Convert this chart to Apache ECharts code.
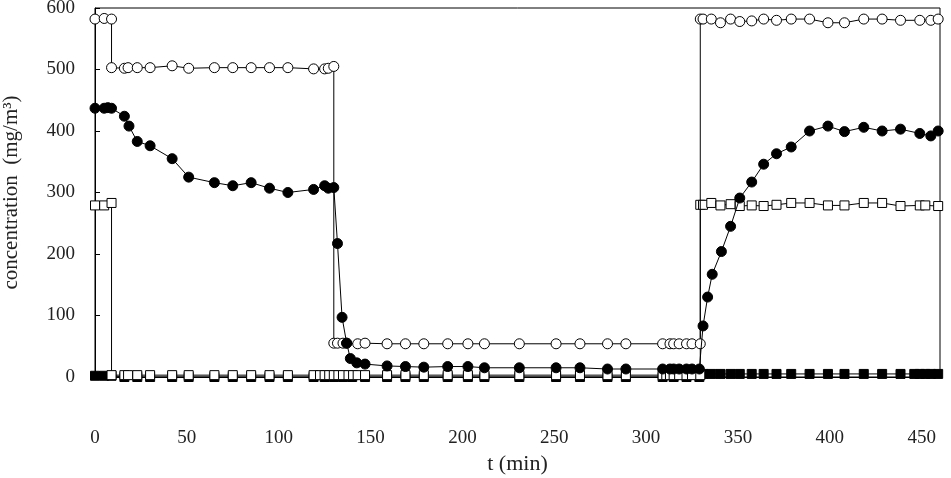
<!DOCTYPE html>
<html>
<head>
<meta charset="utf-8">
<script src="https://cdn.jsdelivr.net/npm/echarts@6/dist/echarts.min.js"></script>
<style>html,body{margin:0;padding:0;background:#fff;}#c{width:951px;height:478px;}</style>
</head>
<body>
<div id="c"></div>
<script>
// open circles
const ocT = [0,5,9,9,16,18,23,30,42,51,65,75,85,95,105,119,125,127,130,130,132,135,137,143,147,159,169,179,192,203,212,231,251,264,279,289,309,313,315,318,322,325,329.5,329.5,331,335.5,340.5,346,351,357.5,364,371,379,389,399,408,418.5,428.5,438.5,449,455,459];
const ocV = [582,583,582,503,502,503,503,503,506,502,503,503,503,503,503,501,501,502,505,55,55,55,55,54,55,54,54,54,54,54,54,54,54,54,54,54,54,54,54,54,54,54,54,582,582,582,576,582,578,579,582,580,582,582,576,576,582,582,580,580,580,582];
// filled circles
const fcT = [0,5,7,9,16,18.5,23,30,42,51,65,75,85,95,105,119,125,127,130,132,134.5,137,139,142.5,147,159,169,179,192,203,212,231,251,264,279,289,309,313,315,318,322,325,329,331,333.5,336,341,346,351,357.5,364,371,379,389,399,408,418.5,428.5,438.5,449,455,459];
const fcV = [437,437,438,437,424,408,383,376,355,325,316,311,316,307,300,305,311,307,308,217,97,55,30,23,21,18,17,16,17,17,15,15,15,15,13,13,13,13,13,13,13,13,13,83,130,167,204,245,291,317,346,363,374,400,408,399,406,400,403,396,392,400];
// open squares
const osT = [0,5,9,9,16,18,23,30,42,51,65,75,85,95,105,119,122.5,125,127.5,130,132.5,135,138,140.5,143,147,159,169,179,192,203,212,231,251,264,279,289,309,311,313,315,318,322,325,329.5,329.5,331,335.5,340.5,346,351,357.5,364,371,379,389,399,408,418.5,428.5,438.5,449,452,459];
const osV = [279,279,283,3,3,3,3,3,3,3,3,3,3,3,3,3,3,3,3,3,3,3,3,3,3,3,3,3,3,3,3,3,3,3,3,3,3,3,3,3,3,3,3,3,3,280,280,283,279,281,278,279,278,280,283,283,279,279,283,283,278,279,279,278];
// filled squares
const fsT = [0,5,9,16,23,30,42,51,65,75,85,95,105,119,125,130,135,140,147,159,169,179,192,203,212,231,251,264,279,289,309,315,322,329,331,335.5,340.5,346,351,357.5,364,371,379,389,399,408,418.5,428.5,438.5,446,449,452,455,459];
const fsV = [2,2,2,0,0,0,0,0,0,0,0,0,0,0,0,0,0,0,0,0,0,0,0,0,0,0,0,0,0,0,0,0,0,0,5,5,5,5,5,5,5,5,5,5,5,5,5,5,5,5,5,5,5,5];
const xTicks = [0,50,100,150,200,250,300,350,400,450];

const pairs = (t, v) => t.map((x, i) => [x, v[i]]);
const font = 'Liberation Serif';
const chart = echarts.init(document.getElementById('c'), null, {renderer: 'canvas'});
const line = {color: '#000', width: 1};
chart.setOption({
  animation: false,
  grid: {left: 95, right: 11, top: 8, bottom: 101, show: true, borderColor: '#000', borderWidth: 1,
    containLabel: false, outerBoundsMode: 'none'},
  xAxis: {
    type: 'value', min: 0, max: 460, interval: 50,
    axisLine: {show: true, lineStyle: {color: '#000'}},
    axisTick: {show: false},
    splitLine: {show: false},
    axisLabel: {fontFamily: font, fontSize: 19, color: '#222', margin: 52,
      formatter: v => xTicks.includes(v) ? String(v) : ''},
    name: 't (min)', nameLocation: 'middle', nameGap: 76,
    nameTextStyle: {fontFamily: font, fontSize: 22, color: '#222'}
  },
  yAxis: {
    type: 'value', min: 0, max: 600, interval: 100,
    axisLine: {show: true, lineStyle: {color: '#000'}},
    axisTick: {show: true, inside: true, length: 5, lineStyle: {color: '#000'}},
    splitLine: {show: false},
    axisLabel: {fontFamily: font, fontSize: 19, color: '#222', margin: 20},
    name: 'concentration  (mg/m³)', nameLocation: 'middle', nameGap: 73, nameRotate: 90,
    nameTextStyle: {fontFamily: font, fontSize: 21, color: '#222'}
  },
  series: [
    {type: 'line', data: pairs(fsT, fsV), symbol: 'rect', symbolSize: 9, lineStyle: line,
      itemStyle: {color: '#000', borderColor: '#000', borderWidth: 1}, z: 2},
    {type: 'line', data: pairs(osT, osV), symbol: 'rect', symbolSize: 9, lineStyle: line,
      itemStyle: {color: '#fff', borderColor: '#000', borderWidth: 1}, z: 3},
    {type: 'line', data: pairs(ocT, ocV), symbol: 'circle', symbolSize: 10, lineStyle: line,
      itemStyle: {color: '#fff', borderColor: '#000', borderWidth: 1}, z: 4},
    {type: 'line', data: pairs(fcT, fcV), symbol: 'circle', symbolSize: 10, lineStyle: line,
      itemStyle: {color: '#000', borderColor: '#000', borderWidth: 1}, z: 5}
  ]
});
</script>
</body>
</html>
